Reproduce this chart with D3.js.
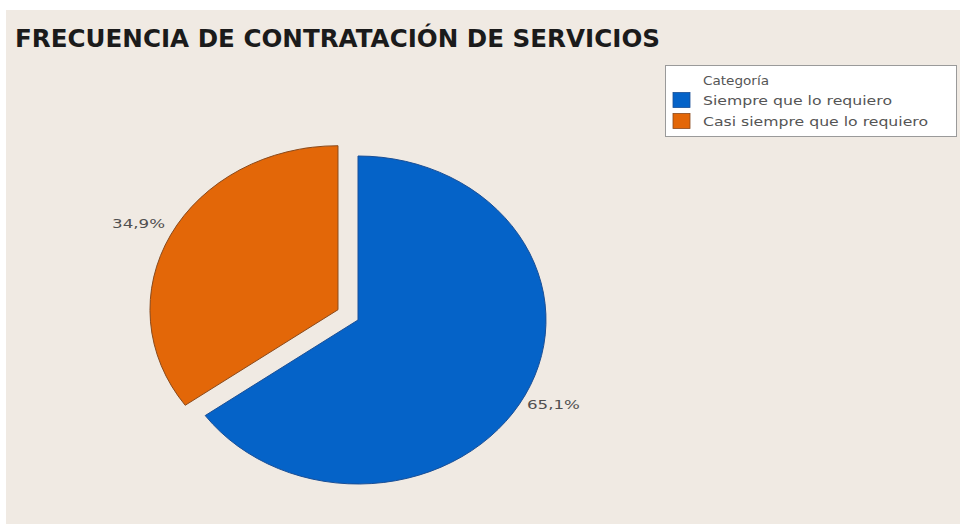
<!DOCTYPE html>
<html>
<head>
<meta charset="utf-8">
<script src="https://cdn.jsdelivr.net/npm/d3@7"></script>
<style>
  html, body { margin: 0; padding: 0; background: #ffffff; }
  svg { display: block; }
  text { font-family: "DejaVu Sans", Verdana, sans-serif; }
</style>
</head>
<body>
<script>
// Data
const categories = ["Siempre que lo requiero", "Casi siempre que lo requiero"];
const percentages = [65.1, 34.9];
const percentLabels = ["65,1%", "34,9%"];
const colors = ["#0563c8", "#e36708"];
const strokeColors = ["#1a4f96", "#8a4a1c"];
const titleText = "FRECUENCIA DE CONTRATACIÓN DE SERVICIOS";
const legendTitle = "Categoría";

const W = 960, H = 524;
const svg = d3.select("body").append("svg").attr("width", W).attr("height", H);

// Panel background
svg.append("rect").attr("x", 6).attr("y", 10).attr("width", W - 6).attr("height", H - 10)
  .attr("fill", "#f0eae3");

// Title
svg.append("text")
  .attr("x", 15).attr("y", 47)
  .attr("font-size", 25.5).attr("font-weight", "bold")
  .attr("fill", "#1b1b1b")
  .attr("textLength", 645).attr("lengthAdjust", "spacingAndGlyphs")
  .text(titleText);

// Pie (drawn as a circle of radius ry, stretched horizontally)
const cx = 358, cy = 320, rx = 188, ry = 164;
const sx = rx / ry;
const explode = 22.5;

const pie = d3.pie().sort(null).value(d => d)
  .startAngle(0).endAngle(2 * Math.PI);
const arcs = pie(percentages);
const arc = d3.arc().innerRadius(0).outerRadius(ry);

const pieG = svg.append("g");
// Small nudges so each label sits just off the rim
const labelNudge = [[-8, 4], [4, -6]];

arcs.forEach((a, i) => {
  const mid = (a.startAngle + a.endAngle) / 2;
  const off = i === 1 ? explode : 0;
  const ox = cx + Math.sin(mid) * off;
  const oy = cy - Math.cos(mid) * off;
  pieG.append("path")
    .attr("d", arc(a))
    .attr("transform", `translate(${ox},${oy}) scale(${sx},1)`)
    .attr("fill", colors[i])
    .attr("stroke", strokeColors[i])
    .attr("stroke-width", 1)
    .attr("vector-effect", "non-scaling-stroke");

  // Percentage label just outside the rim
  const lr = ry * 1.07;
  const lx = ox + Math.sin(mid) * lr * sx;
  const ly = oy - Math.cos(mid) * lr;
  const right = Math.sin(mid) > 0;
  svg.append("text")
    .attr("x", lx + (right ? -2 : 2) + labelNudge[i][0])
    .attr("y", ly + labelNudge[i][1])
    .attr("dy", "0.35em")
    .attr("text-anchor", right ? "start" : "end")
    .attr("font-size", 12.5)
    .attr("fill", "#505050")
    .attr("textLength", 53).attr("lengthAdjust", "spacingAndGlyphs")
    .text(percentLabels[i]);
});

// Legend
const legendWidths = [189, 225];
const lg = svg.append("g");
lg.append("rect").attr("x", 665.5).attr("y", 65.5).attr("width", 291).attr("height", 71)
  .attr("fill", "#ffffff").attr("stroke", "#9a9a9a").attr("stroke-width", 1);
lg.append("text").attr("x", 703).attr("y", 80).attr("dy", "0.35em")
  .attr("font-size", 13).attr("fill", "#555555")
  .attr("textLength", 66).attr("lengthAdjust", "spacingAndGlyphs")
  .text(legendTitle);
categories.forEach((c, i) => {
  const yc = 100 + i * 21;
  lg.append("rect").attr("x", 673).attr("y", yc - 7.5).attr("width", 17).attr("height", 15)
    .attr("fill", colors[i]).attr("stroke", strokeColors[i]).attr("stroke-width", 0.8);
  lg.append("text").attr("x", 703).attr("y", yc).attr("dy", "0.35em")
    .attr("font-size", 13).attr("fill", "#555555")
    .attr("textLength", legendWidths[i]).attr("lengthAdjust", "spacingAndGlyphs")
    .text(c);
});
</script>
</body>
</html>
